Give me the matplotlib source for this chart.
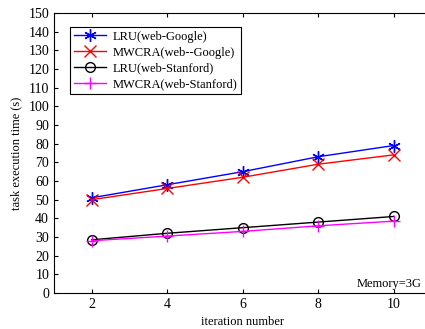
import numpy as np
import matplotlib.pyplot as plt

plt.rcParams['font.family'] = ['Liberation Serif', 'DejaVu Serif']

iterations = [2, 4, 6, 8, 10]
lru_google = [51, 58, 65, 73, 79]
mwcra_google = [50, 56, 62, 69, 74]
lru_stanford = [28.5, 32, 35, 38, 41]
mwcra_stanford = [28, 30.5, 33, 36, 38.5]

fig = plt.figure(figsize=(4.25, 3.29), dpi=100)
ax = fig.add_axes([0.127, 0.1094, 0.888, 0.851])
ax.spines['right'].set_visible(False)

ax.plot(iterations, lru_google, 'b-', marker=(6, 2, 0), markersize=9, linewidth=1, label='LRU(web-Google)')
ax.plot(iterations, mwcra_google, 'r-x', markersize=8, linewidth=1, label='MWCRA(web--Google)')
ax.plot(iterations, lru_stanford, 'k-o', markersize=7, markerfacecolor='none', linewidth=1, label='LRU(web-Stanford)')
ax.plot(iterations, mwcra_stanford, '-+', color='magenta', markersize=9, linewidth=1, label='MWCRA(web-Stanford)')

ax.set_xlim(1, 11)
ax.set_ylim(0, 150)
ax.set_xticks(iterations)
ax.set_yticks(np.arange(0, 151, 10))
ax.tick_params(direction='in', labelsize=10, top=True, length=3)
ax.set_xlabel('iteration number', fontsize=9)
ax.set_ylabel('task execution time (s)', fontsize=9)

fig.text(0.992, 0.12, 'Memory=3G', ha='right', va='bottom', fontsize=9)

leg = ax.legend(loc='upper left', bbox_to_anchor=(0.042, 0.95), fontsize=9, fancybox=False,
                edgecolor='black', framealpha=1, borderpad=0.3, labelspacing=0.3,
                handlelength=2.6, handletextpad=0.5, borderaxespad=0)
leg.get_frame().set_linewidth(0.8)

fig.savefig('out.png', dpi=100)
